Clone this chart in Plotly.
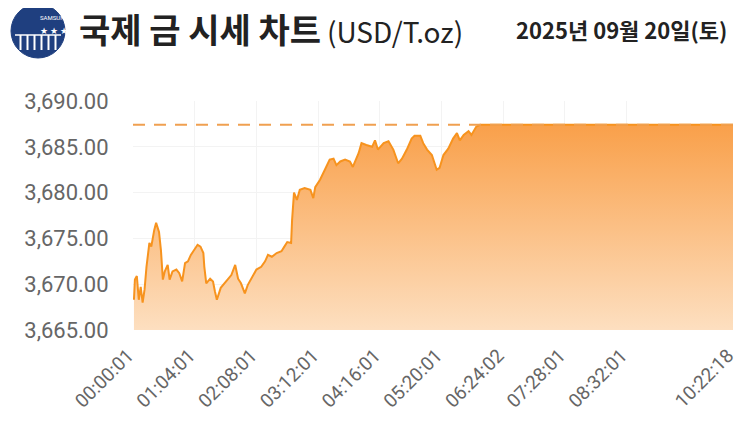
"""
국제 금 시세 차트 — intraday gold price (USD/T.oz) area chart.
"""

import plotly.graph_objects as go

# Minutes since 00:00:00 and price
minutes = [
    1, 2, 4, 6, 8, 10, 12, 14, 17, 19, 22, 24, 27, 29, 31, 33, 36, 38, 41, 45,
    48, 51, 54, 57, 60, 64, 67, 70, 73, 74, 76, 80, 83, 85, 87, 91, 95, 98, 102,
    106, 109, 112, 116, 119, 123, 128, 133, 137, 140, 144, 149, 154, 157, 160,
    164, 165, 167, 170, 173, 178, 184, 187, 189, 194, 199, 204, 208, 211, 215,
    220, 225, 228, 234, 237, 242, 248, 251, 254, 260, 265, 270, 275, 279, 284,
    289, 292, 298, 301, 305, 310, 315, 318, 322, 327, 332, 336, 339, 343, 348,
    351, 356, 360, 622.3,
]
prices = [
    3668.3, 3670.5, 3670.9, 3668.3, 3669.7, 3668.0, 3669.4, 3671.9, 3674.5,
    3674.1, 3675.9, 3676.7, 3675.7, 3673.7, 3670.5, 3671.4, 3672.1, 3670.5,
    3671.4, 3671.6, 3671.2, 3670.3, 3672.3, 3672.5, 3673.2, 3673.8, 3674.3,
    3674.1, 3673.4, 3671.9, 3670.1, 3670.6, 3670.3, 3669.2, 3668.3, 3669.6,
    3670.1, 3670.5, 3671.0, 3672.1, 3670.6, 3670.1, 3669.0, 3669.9, 3670.6,
    3671.6, 3671.9, 3672.5, 3673.2, 3673.0, 3673.4, 3673.6, 3674.1, 3674.6,
    3674.5, 3677.0, 3680.0, 3679.2, 3680.3, 3680.5, 3680.3, 3679.4, 3680.6,
    3681.4, 3682.5, 3683.6, 3683.7, 3683.0, 3683.4, 3683.6, 3683.4, 3682.8,
    3684.3, 3685.4, 3685.2, 3685.0, 3685.7, 3684.7, 3685.4, 3685.6, 3684.7,
    3683.2, 3683.7, 3684.7, 3685.9, 3686.2, 3686.2, 3685.4, 3684.7, 3684.1,
    3682.5, 3682.7, 3684.1, 3684.8, 3685.9, 3686.5, 3685.7, 3686.3, 3686.7,
    3686.3, 3687.2, 3687.4, 3687.4,
]

tick_labels = [
    "00:00:01", "01:04:01", "02:08:01", "03:12:01", "04:16:01",
    "05:20:01", "06:24:02", "07:28:01", "08:32:01", "10:22:18",
]
y_ticks = [3665, 3670, 3675, 3680, 3685, 3690]

TITLE = "국제 금 시세 차트"
UNIT = "(USD/T.oz)"
DATE = "2025년 09월 20일(토)"

LINE = "#F7931E"
TOP = "#F9A04A"
BOTTOM = "#FDDFC0"
GRID = "#F3F3F3"
LABEL = "#666666"
NAVY = "#1F3F7F"
CLEAR = "rgba(0,0,0,0)"

# the page body adds an 8px margin, so the figure is 8px smaller
W, H, PAD = 735, 424, 8


def to_minutes(label):
    h, m, s = (int(p) for p in label.split(":"))
    return h * 60 + m + s / 60


def px_x(x):
    # page pixel -> paper x (plot spans 133..733 on the page)
    return (x - 133) / 600


def px_y(y):
    # page pixel -> paper y (plot spans 101..330 on the page)
    return (330 - y) / 229


tick_vals = [to_minutes(t) for t in tick_labels]
last_price = prices[-1]

fig = go.Figure()

fig.add_trace(
    go.Scatter(
        x=minutes,
        y=prices,
        mode="lines",
        line=dict(color=LINE, width=2),
        fill="tozeroy",
        fillgradient=dict(
            type="vertical",
            colorscale=[[0, BOTTOM], [1, TOP]],
            start=y_ticks[0],
            stop=last_price,
        ),
        hoverinfo="skip",
    )
)

# reference line at the latest price
fig.add_trace(
    go.Scatter(
        x=[tick_vals[0], tick_vals[-1]],
        y=[last_price, last_price],
        mode="lines",
        line=dict(color="#F0A050", width=2, dash="12px,9px"),
        hoverinfo="skip",
    )
)

fig.update_layout(
    width=W,
    height=H,
    margin=dict(l=133 - PAD, r=W - (733 - PAD), t=101 - PAD, b=H - (330 - PAD)),
    plot_bgcolor="white",
    paper_bgcolor="white",
    showlegend=False,
    font=dict(family="Roboto, sans-serif", color=LABEL),
    title=dict(
        text=f"<b>{TITLE}</b>",
        xref="container", yref="container",
        x=(79 - PAD) / W, y=1 - (31 - PAD) / H,
        xanchor="left", yanchor="middle",
        font=dict(family="Noto Sans CJK KR, sans-serif", size=34, color="#222222"),
    ),
    xaxis=dict(
        range=[tick_vals[0], tick_vals[-1]],
        tickvals=tick_vals,
        ticktext=tick_labels,
        tickangle=-45,
        tickfont=dict(size=19, color=LABEL),
        ticklabeloverflow="allow",
        ticklabelshift=-5,
        showgrid=True,
        gridcolor=GRID,
        zeroline=False,
        showline=False,
        ticks="outside",
        ticklen=6,
        tickcolor=CLEAR,
        automargin=False,
    ),
    yaxis=dict(
        range=[y_ticks[0], y_ticks[-1]],
        tickvals=y_ticks,
        tickformat=",.2f",
        tickfont=dict(size=22, color=LABEL),
        showgrid=True,
        gridcolor=GRID,
        zeroline=False,
        showline=False,
        ticks="outside",
        ticklen=19,
        tickcolor=CLEAR,
        automargin=False,
    ),
)

# unit and date
fig.add_annotation(
    x=px_x(325), y=px_y(31), xref="paper", yref="paper",
    xanchor="left", yanchor="middle", showarrow=False,
    text=UNIT,
    font=dict(family="Noto Sans CJK KR, sans-serif", size=28, color="#222222"),
)
fig.add_annotation(
    x=px_x(729), y=px_y(29), xref="paper", yref="paper",
    xanchor="right", yanchor="middle", showarrow=False,
    text=f"<b>{DATE}</b>",
    font=dict(family="Noto Sans CJK KR, sans-serif", size=22, color="#222222"),
)

# logo: navy globe
fig.add_shape(
    type="circle", xref="paper", yref="paper",
    x0=px_x(11), x1=px_x(65), y0=px_y(58), y1=px_y(4),
    fillcolor=NAVY, line=dict(color=NAVY, width=1),
)
for i in range(6):
    xs = 20.5 + i * 7
    fig.add_shape(
        type="line", xref="paper", yref="paper",
        x0=px_x(xs), x1=px_x(xs), y0=px_y(50), y1=px_y(35),
        line=dict(color="white", width=2),
    )
fig.add_shape(
    type="line", xref="paper", yref="paper",
    x0=px_x(15), x1=px_x(61), y0=px_y(35), y1=px_y(35),
    line=dict(color="white", width=1.5),
)
fig.add_annotation(
    x=px_x(38), y=px_y(24), xref="paper", yref="paper",
    showarrow=False, text="★ ★ ★",
    font=dict(size=9, color="white"),
)
fig.add_annotation(
    x=px_x(38), y=px_y(12), xref="paper", yref="paper",
    showarrow=False, text="SAMSUNG",
    font=dict(size=6, color="white"),
)

fig.write_html("out.html")
